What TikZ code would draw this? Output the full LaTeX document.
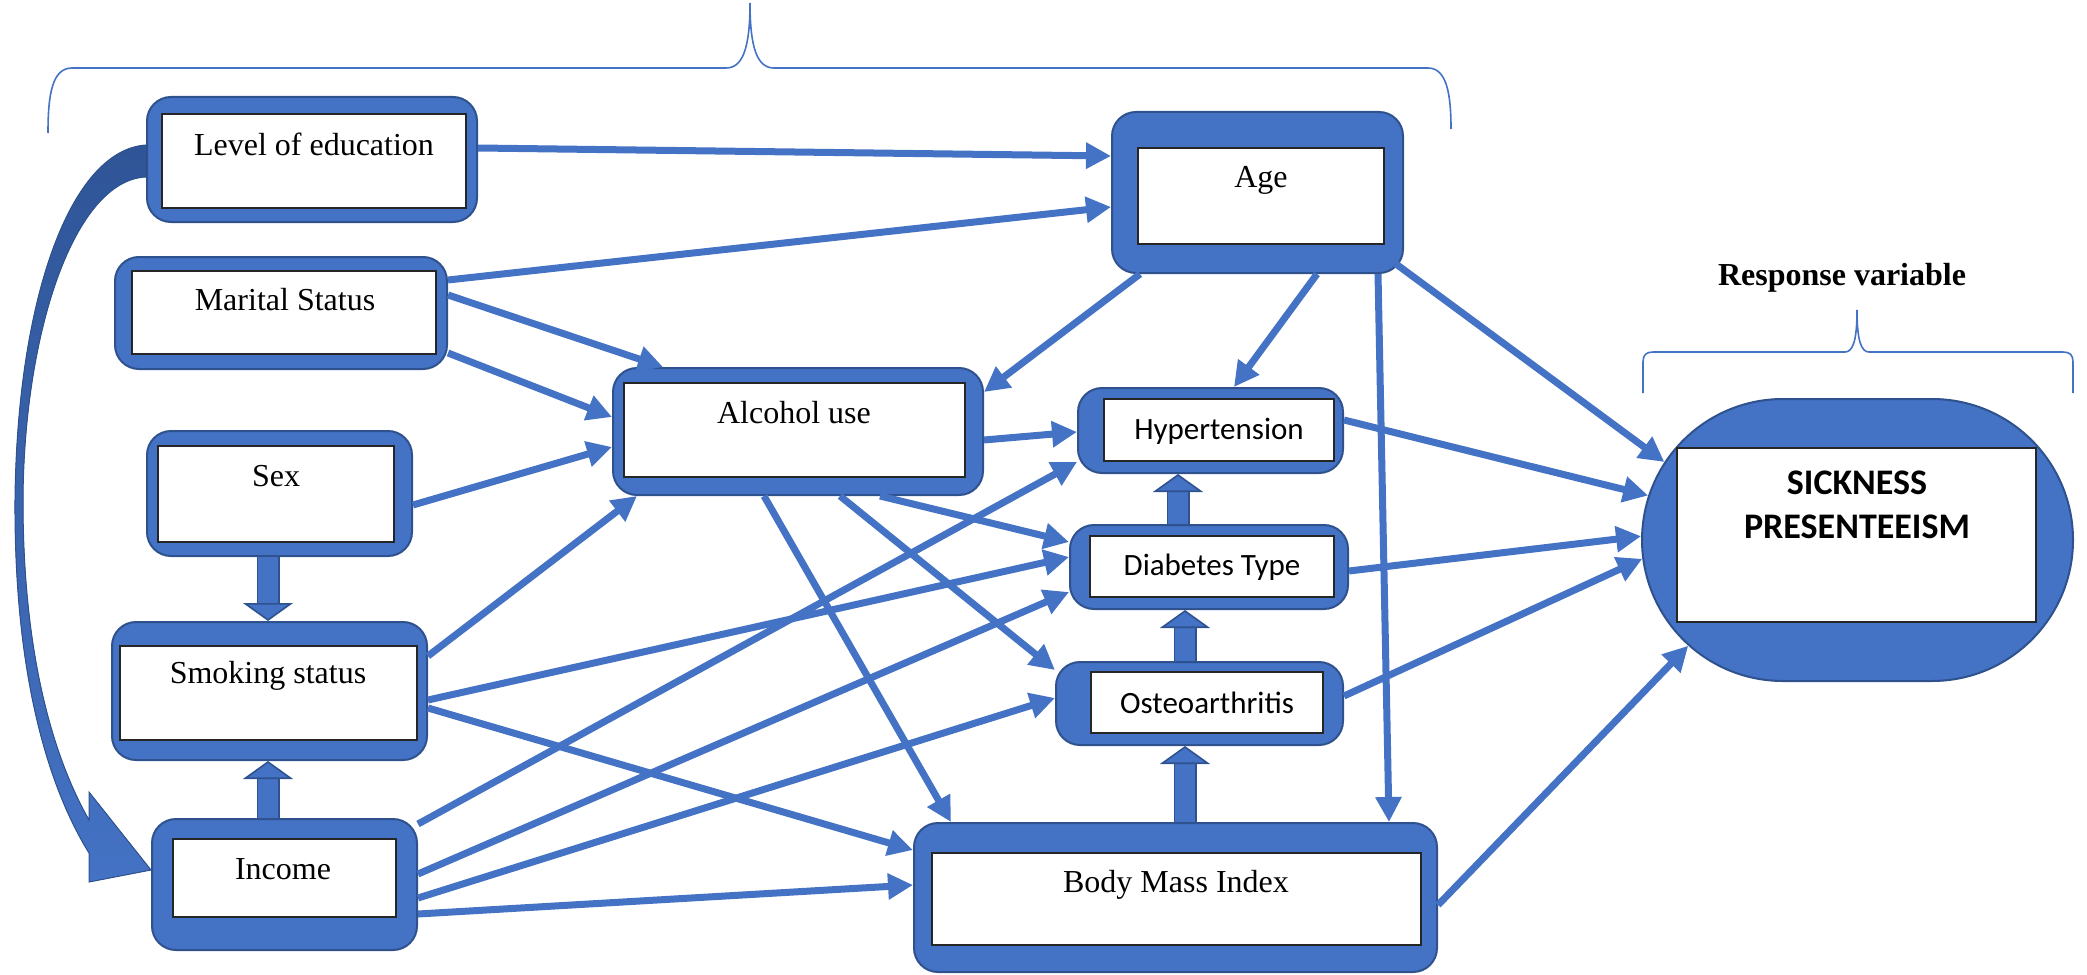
\documentclass[tikz,border=0pt]{standalone}
\usepackage{fontspec}
\setmainfont{Liberation Serif}
\newfontfamily\calibri{Carlito}
\usetikzlibrary{arrows.meta,fit,shapes.misc}
\definecolor{boxblue}{HTML}{4472C4}
\definecolor{boxedge}{HTML}{2F528F}
\definecolor{curveblue}{HTML}{2F5597}

\begin{document}
\begin{tikzpicture}[x=0.5pt,y=-0.5pt,
		varbox/.style={draw=boxedge, fill=boxblue, line width=1pt, rounded corners=12pt, inner sep=0pt},
		inbox/.style={draw=black!85, fill=white, line width=0.7pt, inner sep=0pt},
		lbl/.style={font=\fontsize{16}{19}\selectfont, inner sep=0pt},
		clbl/.style={font=\calibri\fontsize{15.5}{18}\selectfont, inner sep=0pt},
		link/.style={draw=boxblue, line width=3.5pt, -{Triangle[length=12.5pt,width=12.5pt]}},
		blockarrow/.style={draw=boxblue, line width=10pt,
			-{Triangle[length=9pt,width=25pt,color=boxedge,fill=boxblue,line width=0.8pt]},
			preaction={draw=boxedge, line width=11.5pt, -, shorten >=8pt}},
		brace/.style={draw=boxblue, line width=0.8pt}
	]
	\useasboundingbox (0,0) rectangle (2087,974);
	
	% explanatory variables
	\node[varbox, fit={(147,97) (477,222)}] (edu) {};
	\node[inbox, fit={(162,114) (466,208)}] (eduin) {};
	\node[lbl] (edutxt) at (314,144) {Level of education};
	
	\node[varbox, fit={(115,257) (447,369)}] (mar) {};
	\node[inbox, fit={(132,271) (436,354)}] (marin) {};
	\node[lbl] (martxt) at (285,300) {Marital Status};
	
	\node[varbox, fit={(147,431) (412,556)}] (sex) {};
	\node[inbox, fit={(158,446) (394,542)}] (sexin) {};
	\node[lbl] (sextxt) at (276,476) {Sex};
	
	\node[varbox, fit={(112,622) (427,760)}] (smk) {};
	\node[inbox, fit={(120,646) (417,740)}] (smkin) {};
	\node[lbl] (smktxt) at (268,676) {Smoking status};
	
	\node[varbox, fit={(152,819) (417,950)}] (inc) {};
	\node[inbox, fit={(173,839) (396,917)}] (incin) {};
	\node[lbl] (inctxt) at (283,869) {Income};
	
	\node[varbox, fit={(1112,112) (1403,273)}] (age) {};
	\node[inbox, fit={(1138,148) (1384,244)}] (agein) {};
	\node[lbl] (agetxt) at (1261,180) {Age};
	
	\node[varbox, fit={(613,368) (983,495)}] (alc) {};
	\node[inbox, fit={(624,383) (965,477)}] (alcin) {};
	\node[lbl] (alctxt) at (794,413) {Alcohol use};
	
	\node[varbox, fit={(1078,388) (1343,473)}] (hyp) {};
	\node[inbox, fit={(1104,399) (1334,461)}] (hypin) {};
	\node[clbl] (hyptxt) at (1219,431) {Hypertension};
	
	\node[varbox, fit={(1070,525) (1348,609)}] (dia) {};
	\node[inbox, fit={(1090,536) (1334,597)}] (diain) {};
	\node[clbl] (diatxt) at (1212,567) {Diabetes Type};
	
	\node[varbox, fit={(1056,662) (1343,745)}] (ost) {};
	\node[inbox, fit={(1091,672) (1323,733)}] (ostin) {};
	\node[clbl] (osttxt) at (1207,703) {Osteoarthritis};
	
	\node[varbox, fit={(914,823) (1437,972)}] (bmi) {};
	\node[inbox, fit={(932,853) (1421,945)}] (bmiin) {};
	\node[lbl] (bmitxt) at (1176,885) {Body Mass Index};
	
	% response variable
	\node[varbox, sharp corners, rounded rectangle, minimum width=215.5pt, minimum height=141pt] (sick) at (1857.5,540) {};
	\node[inbox, fit={(1677,448) (2036,622)}] (sickin) {};
	\node[font=\calibri\bfseries\fontsize{18}{22}\selectfont, align=center, inner sep=0pt] (sicktxt) at (1857,505) {SICKNESS\\PRESENTEEISM};
	\node[font=\bfseries\fontsize{16}{19}\selectfont, inner sep=0pt] (resptxt) at (1842,278) {Response variable};
	
	% braces
	\draw[brace] (48,133) .. controls (48,95) and (52,68) .. (72,68) -- (726,68)
		.. controls (742,68) and (750,50) .. (750,3) .. controls (750,50) and (758,68) .. (774,68)
		-- (1428,68) .. controls (1447,68) and (1451,95) .. (1451,129);
	\draw[brace] (1643,393) -- (1643,362) .. controls (1643,355) and (1646,352) .. (1653,352) -- (1845,352)
		.. controls (1853,352) and (1857,340) .. (1857,310) .. controls (1857,340) and (1861,352) .. (1869,352)
		-- (2063,352) .. controls (2070,352) and (2073,355) .. (2073,362) -- (2073,393);
	
	% curved arrow from education to income
	\filldraw[top color=curveblue, bottom color=boxblue, draw=boxedge, line width=0.5pt]
		(edu.west |- 0,145) .. controls (70,150) and (17,300) .. (15,500)
		.. controls (14,680) and (50,790) .. (89,853) -- (89,882) -- (inc.west |- 0,870) -- (89,792) -- (89,820)
		.. controls (55,760) and (23,660) .. (23,500) .. controls (24,330) and (75,180) .. (edu.west |- 0,177) -- cycle;
	
	% block arrows
	\draw[blockarrow] (sex.south -| 268,0) -- (smk.north -| 268,0);
	\draw[blockarrow] (inc.north -| 268,0) -- (smk.south -| 268,0);
	\draw[blockarrow] (dia.north -| 1178,0) -- (hyp.south -| 1178,0);
	\draw[blockarrow] (ost.north -| 1185,0) -- (dia.south -| 1185,0);
	\draw[blockarrow] (bmi.north -| 1185,0) -- (ost.south -| 1185,0);
	
	% links
	\draw[link] (edu.east |- 0,148) -- (age.west |- 0,156);
	\draw[link] (mar.east |- 0,280) -- (age.west |- 0,207);
	\draw[link] (mar.east |- 0,295) -- (alc.north -| 663,0);
	\draw[link] (mar.east |- 0,353) -- (alc.west |- 0,417);
	\draw[link] (sex.east |- 0,505) -- (alc.west |- 0,447);
	\draw[link] (smk.east |- 0,656) -- (alc.south -| 637,0);
	\draw[link] (smk.east |- 0,700) -- (dia.west |- 0,557);
	\draw[link] (smk.east |- 0,708) -- (bmi.west |- 0,850);
	\draw[link] (inc.east |- 0,824) -- (hyp.west |- 0,462);
	\draw[link] (inc.east |- 0,874) -- (dia.west |- 0,592);
	\draw[link] (inc.east |- 0,898) -- (ost.west |- 0,698);
	\draw[link] (inc.east |- 0,914) -- (bmi.west |- 0,885);
	\draw[link] (age.south -| 1140,0) -- (alc.east |- 0,392);
	\draw[link] (age.south -| 1317,0) -- (hyp.north -| 1234,0);
	\draw[link] (age.south -| 1378,0) -- (bmi.north -| 1389,0);
	\draw[link] ([shift={(-8,-10)}]age.south east) -- (sick.158);
	\draw[link] (alc.east |- 0,440) -- (hyp.west |- 0,432);
	\draw[link] (alc.south -| 880,0) -- (dia.west |- 0,542);
	\draw[link] (alc.south -| 840,0) -- (ost.west |- 0,670);
	\draw[link] (alc.south -| 764,0) -- (bmi.north -| 951,0);
	\draw[link] (hyp.east |- 0,420) -- (sick.168);
	\draw[link] (dia.east |- 0,571) -- (sick.179);
	\draw[link] (ost.east |- 0,696) -- (sick.185);
	\draw[link] (bmi.east |- 0,905) -- (sick.212);
	
\end{tikzpicture}
\end{document}
